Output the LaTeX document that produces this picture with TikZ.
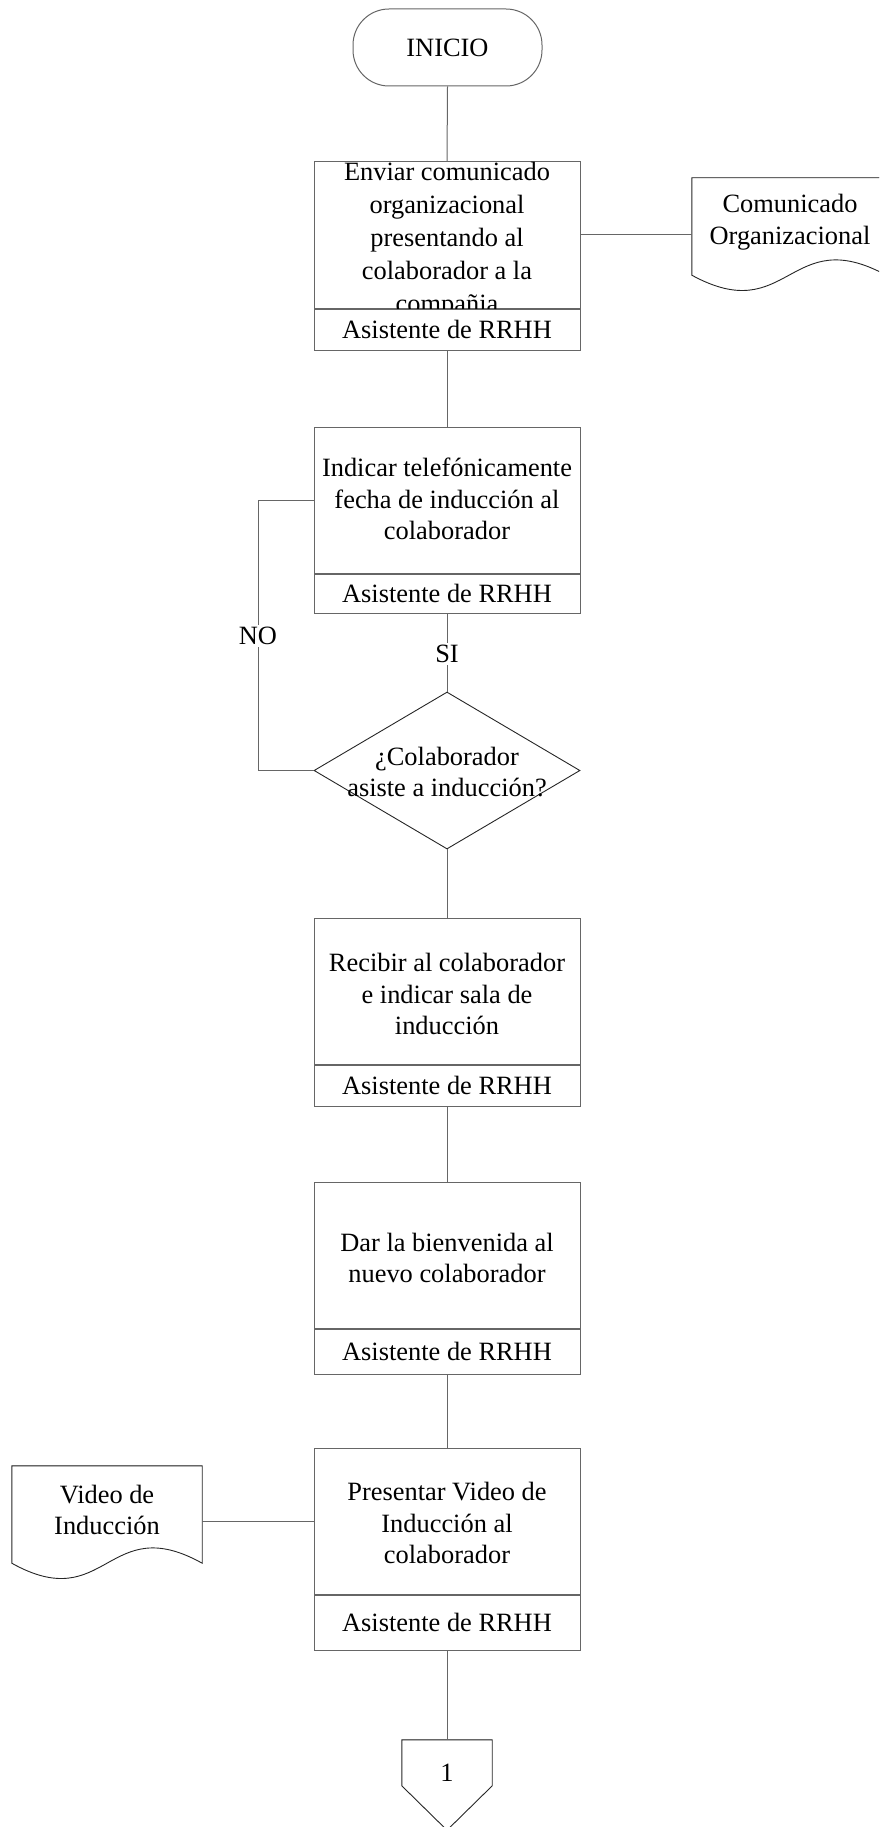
\documentclass[tikz,border=0pt]{standalone}
\usepackage{fontspec}
\setmainfont{Liberation Serif}
\usetikzlibrary{shapes.geometric}
\newcommand\flowfont{\fontsize{26.4}{31.5}\selectfont}
\newcommand\wideflowfont{\fontsize{26.4}{33}\selectfont}
\begin{document}
\begin{tikzpicture}[x=1pt,y=-1pt,
  ln/.style={draw=black!60, line width=1pt},
  dk/.style={draw=black!85, line width=0.9pt},
  box/.style={ln, rectangle, minimum width=266pt, minimum height=146pt, inner sep=0pt},
  lab/.style={ln, fill=white, rectangle, minimum width=266pt, inner sep=0pt, font=\flowfont},
  txt/.style={align=center, inner sep=0pt, font=\flowfont},
  doc/.style={rectangle, minimum height=97pt, inner sep=0pt},
  tag/.style={fill=white, inner sep=2pt, font=\flowfont},
  conn/.style={ln}
]
\useasboundingbox (0,0) rectangle (879,1827);
\clip (0,0) rectangle (879,1827);

% start terminal
\node[ln, rounded corners=36pt, minimum width=189pt, minimum height=77pt, inner sep=0pt, font=\flowfont] (start) at (447.5,47.5) {INICIO};

% step 1 (text runs into the role strip, which covers it)
\node[box] (b1) at (447,235) {};
\node[txt, font=\wideflowfont] (b1t) at (447,240) {Enviar comunicado\\organizacional\\presentando al\\colaborador a la\\compañia};
\node[lab, minimum height=41pt, anchor=north] (b1l) at (b1.south) {Asistente de RRHH};

% document: Comunicado Organizacional
\node[doc, minimum width=194pt] (cd) at (789,226.5) {};
\draw[dk] (cd.north east) -- (cd.north west) -- (cd.south west)
  .. controls +(97,53) and +(-97,-53) .. (cd.south east);
\draw[ln] (cd.north west) -- (cd.north east);
\node[txt] (cdt) at (790,222) {Comunicado\\Organizacional};

% step 2
\node[box] (b2) at (447,500) {};
\node[txt] (b2t) at (447,499) {Indicar telefónicamente\\fecha de inducción al\\colaborador};
\node[lab, minimum height=39pt, anchor=north] (b2l) at (b2.south) {Asistente de RRHH};

% decision
\node[dk, diamond, minimum width=266pt, minimum height=157pt, inner sep=0pt] (dec) at (447,770.5) {};
\node[txt] (dect) at (447,772) {¿Colaborador\\asiste a inducción?};

% step 3
\node[box] (b3) at (447,991) {};
\node[txt] (b3t) at (447,994) {Recibir al colaborador\\e indicar sala de\\inducción};
\node[lab, minimum height=41pt, anchor=north] (b3l) at (b3.south) {Asistente de RRHH};

% step 4
\node[box] (b4) at (447,1255) {};
\node[txt] (b4t) at (447,1258) {Dar la bienvenida al\\nuevo colaborador};
\node[lab, minimum height=45pt, anchor=north] (b4l) at (b4.south) {Asistente de RRHH};

% step 5
\node[box] (b5) at (447,1521) {};
\node[txt] (b5t) at (447,1523) {Presentar Video de\\Inducción al\\colaborador};
\node[lab, minimum height=55pt, anchor=north] (b5l) at (b5.south) {Asistente de RRHH};

% document: Video de Induccion
\node[doc, minimum width=190pt] (vd) at (107,1514.5) {};
\draw[dk] (vd.north east) -- (vd.north west) -- (vd.south west)
  .. controls +(95,53) and +(-95,-53) .. (vd.south east) -- cycle;
\draw[ln] (vd.north west) -- (vd.north east);
\node[txt] (vdt) at (107,1510) {Video de\\Inducción};

% off-page connector
\node[inner sep=0pt, minimum width=90pt, minimum height=90pt] (op) at (447,1785) {};
\draw[dk] (op.north west) -- (op.north east) -- ([yshift=-46pt]op.north east)
  -- (op.south) -- ([yshift=-46pt]op.north west) -- cycle;
\draw[ln] (op.north west) -- (op.north east);
\node[txt] (opt) at (447,1773) {1};

% connectors
\draw[conn] (start.south) -- (b1.north);
\draw[conn] (b1.east) -- (b1.east -| cd.west);
\draw[conn] (b1l.south) -- (b2.north);
\draw[conn] (b2l.south) -- (dec.north) node[tag, pos=0.52] (si) {SI};
\draw[conn] (dec.west) -- (258,770.5) coordinate (nob) -- (258,500) coordinate (not) -- (b2.west);
\node[tag] (no) at (258,636) {NO};
\draw[conn] (dec.south) -- (b3.north);
\draw[conn] (b3l.south) -- (b4.north);
\draw[conn] (b4l.south) -- (b5.north);
\draw[conn] (b5.west) -- (b5.west -| vd.east);
\draw[conn] (b5l.south) -- (op.north);
\end{tikzpicture}
\end{document}
